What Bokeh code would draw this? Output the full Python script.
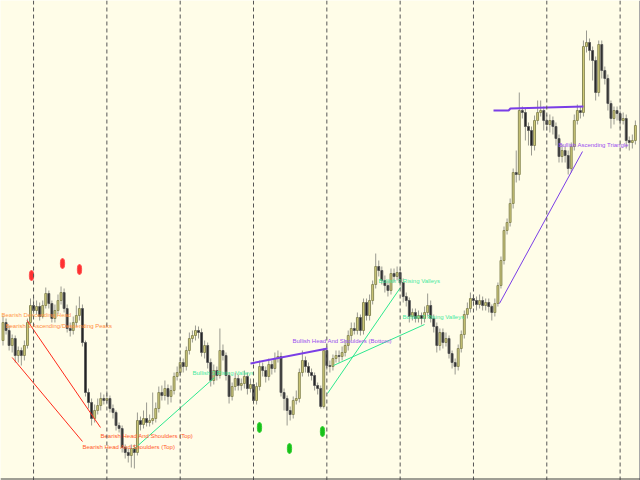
from bokeh.plotting import figure
from bokeh.models import Range1d, Span, ColumnDataSource
from bokeh.embed import file_html
from bokeh.resources import INLINE
from bokeh.core.properties import value

# ---- OHLC data (price units) ----
open_ = [140,158,150,135,142,125,130,125,135,158,
         175,170,174,164,175,187,177,162,170,180,
         188,172,152,150,158,165,172,138,88,78,
         62,70,75,82,80,82,72,68,55,52,
         33,28,25,32,28,60,56,62,58,60,
         62,72,88,85,92,84,90,104,108,118,
         114,130,142,145,150,148,128,135,118,100,
         110,105,130,125,105,84,94,102,95,97,
         104,92,96,80,94,114,110,104,116,112,
         122,124,88,82,70,66,80,82,108,120,
         114,108,105,95,92,74,130,115,114,122,
         125,124,128,135,145,152,150,163,150,178,
         165,180,196,214,210,200,195,190,207,204,
         208,198,184,180,164,168,162,165,162,168,
         175,162,154,135,148,138,142,127,118,114,
         132,146,166,172,182,180,176,180,175,178,
         174,168,177,195,220,250,258,277,308,306,
         370,368,354,350,335,360,368,370,360,356,
         360,354,342,324,330,325,312,334,360,370,
         368,434,438,430,420,388,436,410,402,377,
         362,370,367,360,362,340,338,340]
high = [165,162,155,146,145,134,133,140,162,182,
        184,180,178,180,193,190,180,176,186,194,
        192,176,158,164,175,184,176,140,92,82,
        76,82,88,86,90,85,76,70,58,55,
        36,32,36,36,68,64,70,78,66,88,
        78,94,95,100,96,95,108,114,124,122,
        134,148,150,155,154,152,140,138,122,116,
        114,152,136,128,108,98,108,106,102,110,
        108,102,100,98,120,118,114,122,120,128,
        130,128,92,85,74,84,90,112,130,124,
        118,112,108,98,95,132,134,120,126,130,
        130,134,140,150,158,158,168,166,182,182,
        186,200,227,220,214,205,200,212,212,214,
        212,202,188,183,172,172,170,168,174,187,
        180,166,158,152,152,148,145,130,122,136,
        150,170,178,188,186,184,186,184,182,182,
        176,182,198,224,254,262,282,312,330,388,
        374,372,358,354,365,380,380,374,366,366,
        364,358,346,336,334,330,338,366,376,374,
        440,450,442,434,424,440,440,414,406,380,
        374,374,370,368,366,344,346,360]
low = [135,146,130,128,118,118,115,120,132,155,
       166,166,160,162,172,172,158,158,166,176,
       168,148,144,146,154,160,134,84,72,55,
       58,66,70,76,76,68,62,50,48,28,
       22,18,13,12,25,50,52,54,54,56,
       58,68,80,80,76,78,86,100,104,108,
       110,126,138,140,142,124,122,112,94,96,
       100,102,120,100,77,80,90,90,90,92,
       86,88,76,76,90,104,98,100,106,108,
       118,84,70,55,60,62,76,78,104,108,
       104,100,90,86,72,72,110,108,110,118,
       118,120,124,130,140,146,146,145,146,160,
       160,176,192,204,196,188,184,186,198,200,
       194,178,174,158,160,158,158,156,158,164,
       158,148,128,130,132,134,122,112,106,110,
       128,142,162,168,174,170,172,170,170,168,
       160,164,174,192,216,246,254,272,298,300,
       362,340,335,325,330,356,364,350,350,348,
       346,335,318,318,318,306,308,330,356,362,
       364,428,420,400,380,384,402,396,370,352,
       356,360,352,356,332,330,332,336]
close = [158,150,135,142,125,130,125,135,158,175,
         170,174,164,175,187,177,162,170,180,188,
         172,152,150,158,165,172,138,88,78,62,
         70,75,82,80,82,72,68,55,52,33,
         28,25,32,28,60,56,62,58,60,62,
         72,88,85,92,84,90,104,108,118,114,
         130,142,145,150,148,128,135,118,100,110,
         105,130,125,105,84,94,102,95,97,104,
         92,96,80,94,114,110,104,116,112,122,
         124,88,82,70,66,80,82,108,120,114,
         108,105,95,92,74,130,115,114,122,125,
         124,128,135,145,152,150,163,150,178,165,
         180,196,214,210,200,195,190,207,204,208,
         198,184,180,164,168,162,165,162,168,175,
         162,154,135,148,138,142,127,118,114,132,
         146,166,172,182,180,176,180,175,178,174,
         168,177,195,220,250,258,277,308,306,370,
         368,354,350,335,360,368,370,360,356,360,
         354,342,324,330,325,312,334,360,370,368,
         434,438,430,420,388,436,410,402,377,362,
         370,367,360,362,340,338,340,355]

# period separators (bar index)
separators = [10, 34, 58, 82, 106, 130, 154, 178, 202]

# pattern markers (bar index, price)
top_dots_x = [9.33, 19.48, 25.04]
top_dots_y = [205, 217, 211]
bottom_dots_x = [83.96, 93.78, 104.58]
bottom_dots_y = [53, 32, 49]

# pattern lines
bear_hs_1_x = [3.01, 26.02];   bear_hs_1_y = [123, 39]
bear_hs_2_x = [7.92, 31.91];   bear_hs_2_y = [160, 53]
rv_1_x = [42.72, 69.23];       rv_1_y = [31, 103]
neck_x = [81.01, 106.22];      neck_y = [117, 132]
rv_2_x = [106.22, 130.11];     rv_2_y = [87, 193]
rv_3_x = [108.18, 137.97];     rv_3_y = [115, 156]
tri_top_x = [160.56, 165.5, 166.1, 190.0]
tri_top_y = [370, 370, 372, 374]
tri_low_x = [162.52, 189.69];  tri_low_y = [177, 329]

# pattern labels
lbl_text = ["Bearish Head And Shoulders (Top)", "Bearish Head And Shoulders (Top)",
            "Bullish 3 Rising Valleys", "Bullish Head And Shoulders (Bottom)",
            "Bullish 3 Rising Valleys", "Bullish 3 Rising Valleys",
            "Bullish Ascending Triangle", "Bearish 3 Ascending/Descending Peaks",
            "Bearish Descending Head"]
lbl_x = [31.91, 26.02, 62.03, 94.76, 122.9, 130.8, 181.8, 0.82, -0.5]
lbl_y = [45, 34, 108, 140, 200, 164, 336, 155, 166]
lbl_color = ["#ff5a28", "#ff5a28", "#46eaa0", "#9a4ef0",
             "#46eaa0", "#46eaa0", "#9a4ef0", "#ff8c3c", "#ff9a48"]

BG = "#fffde8"
SP = 3.055
X0 = 2.5

p = figure(width=640, height=480, output_backend="svg", toolbar_location=None,
           x_range=Range1d((0 - X0) / SP, (640 - X0) / SP),
           y_range=Range1d(0, 480),
           background_fill_color=BG, border_fill_color=BG, min_border=0,
           outline_line_color=None)
p.xaxis.visible = False
p.yaxis.visible = False
p.xgrid.visible = False
p.ygrid.visible = False

for s in separators:
    p.add_layout(Span(location=s, dimension="height", line_color="#555555",
                      line_width=1, line_dash="4 3"))
# chart window edges
p.add_layout(Span(location=(639 - X0) / SP, dimension="height",
                  line_color="#a8a8a8", line_width=1))
p.add_layout(Span(location=1.5, dimension="width", line_color="#404040", line_width=1))

idx = list(range(len(close)))
bull = dict(x=[], top=[], bottom=[])
bear = dict(x=[], top=[], bottom=[])
for i, o, c in zip(idx, open_, close):
    d = bull if c >= o else bear
    d["x"].append(i)
    d["top"].append(max(o, c))
    d["bottom"].append(min(o, c))

p.segment(x0=idx, y0=low, x1=idx, y1=high, line_color="#9a9a90", line_width=1)
p.vbar(x="x", top="top", bottom="bottom", width=0.62, source=ColumnDataSource(bull),
       fill_color="#d6d07a", line_color="#8a8a58", line_width=1)
p.vbar(x="x", top="top", bottom="bottom", width=0.62, source=ColumnDataSource(bear),
       fill_color="#1e1e1e", line_color="#5a5a5a", line_width=1)

# lines
p.line(bear_hs_1_x, bear_hs_1_y, line_color="#ff2a1a", line_width=1)
p.line(bear_hs_2_x, bear_hs_2_y, line_color="#ff2a1a", line_width=1)
p.line(rv_1_x, rv_1_y, line_color="#2ee890", line_width=1)
p.line(rv_2_x, rv_2_y, line_color="#2ee890", line_width=1)
p.line(rv_3_x, rv_3_y, line_color="#2ee890", line_width=1)
p.line(neck_x, neck_y, line_color="#7a3ee6", line_width=2)
p.line(tri_top_x, tri_top_y, line_color="#7a3ee6", line_width=2)
p.line(tri_low_x, tri_low_y, line_color="#7a3ee6", line_width=1)

# dots
p.ellipse(x=top_dots_x, y=top_dots_y, width=1.4, height=10, fill_color="#ff3030",
          line_color="#ff5050")
p.ellipse(x=bottom_dots_x, y=bottom_dots_y, width=1.4, height=10, fill_color="#18c018",
          line_color="#30d030")

# labels
p.text(x=lbl_x, y=lbl_y, text=lbl_text, text_color=lbl_color,
       text_font=value("Liberation Sans"), text_font_size=value("6px"),
       text_baseline="middle", text_align="left")

open("out.html", "w").write(file_html(p, INLINE))
